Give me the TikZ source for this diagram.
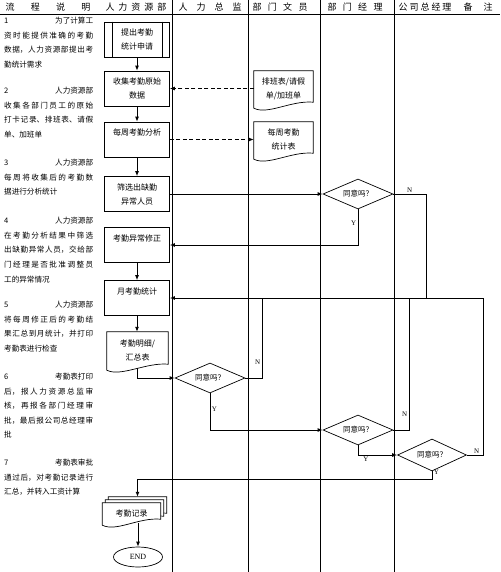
\documentclass[tikz,border=0pt]{standalone}
\usepackage{fontspec}
\setmainfont{Noto Sans CJK SC}
\newfontfamily\latinfont{Liberation Serif}
\usepackage{tikz}
\usetikzlibrary{positioning,arrows.meta,calc,shapes.geometric,backgrounds}
\XeTeXlinebreaklocale "zh"
\XeTeXlinebreakskip=0pt plus 2pt

\newcommand{\docshape}[1]{%
  \begin{scope}[on background layer]
    \draw[line width=0.7pt, fill=white] (#1.north west) -- ([yshift=-2pt]#1.south west)
      .. controls ([xshift=14pt,yshift=-9pt]#1.south west) and ([xshift=-22pt,yshift=6pt]#1.south east) .. ([yshift=4pt]#1.south east)
      -- (#1.north east) -- cycle;
  \end{scope}}

\begin{document}
\begin{tikzpicture}[x=1pt, y=-1pt, font=\fontsize{8}{14}\selectfont,
  lane/.style={line width=0.6pt},
  hdr/.style={font=\fontsize{9}{10}\selectfont, inner sep=0pt},
  note/.style={anchor=north west, inner sep=0pt, text width=89pt, align=justify, font=\fontsize{7.6}{14.6}\selectfont},
  proc/.style={draw, line width=0.7pt, minimum width=65pt, minimum height=35pt, inner sep=1pt, align=center},
  docbox/.style={minimum width=59pt, minimum height=35pt, inner sep=1pt, align=center},
  ask/.style={draw, diamond, line width=0.7pt, minimum width=70pt, minimum height=30pt, inner sep=0pt, aspect=2.3, fill=white, font=\fontsize{7.5}{9}\selectfont},
  yn/.style={font=\fontsize{7}{8}\selectfont\latinfont, inner sep=1.5pt},
  arr/.style={-{Latex[length=5pt,width=4pt]}, line width=0.9pt},
  dsh/.style={arr, dash pattern=on 4pt off 2.5pt},
  ret/.style={line width=0.7pt}]
\useasboundingbox (0,0) rectangle (500,572);

\draw[lane] (0,14) -- (500,14);
\foreach \lx in {172,248,320,394}
  \draw[lane] (\lx,0) -- (\lx,572);

\node[hdr] (hd1) at (48,7)  {\makebox[85pt]{流\hfill 程\hfill 说\hfill 明}};
\node[hdr] (hd2) at (136,7) {\makebox[61pt]{人\hfill 力\hfill 资\hfill 源\hfill 部}};
\node[hdr] (hd3) at (210,7) {\makebox[63pt]{人\hfill 力\hfill 总\hfill 监}};
\node[hdr] (hd4) at (280,7) {\makebox[55pt]{部\hfill 门\hfill 文\hfill 员}};
\node[hdr] (hd5) at (355,7) {\makebox[55pt]{部\hfill 门\hfill 经\hfill 理}};
\node[hdr] (hd6) at (425,7) {\makebox[53pt]{公\hfill 司\hfill 总\hfill 经\hfill 理}};
\node[hdr] (hd7) at (478,7) {\makebox[29pt]{备\hfill 注}};

\node[note] (t1) at (4,17)  {1\hfill 为了计算工\linebreak 资时能提供准确的考勤\linebreak 数据，人力资源部提出考\linebreak 勤统计需求};
\node[note] (t2) at (4,87)  {2\hfill 人力资源部\linebreak 收集各部门员工的原始\linebreak 打卡记录、排班表、请假\linebreak 单、加班单};
\node[note] (t3) at (4,159) {3\hfill 人力资源部\linebreak 每周将收集后的考勤数\linebreak 据进行分析统计};
\node[note] (t4) at (4,217) {4\hfill 人力资源部\linebreak 在考勤分析结果中筛选\linebreak 出缺勤异常人员，交给部\linebreak 门经理是否批准调整员\linebreak 工的异常情况};
\node[note] (t5) at (4,301) {5\hfill 人力资源部\linebreak 将每周修正后的考勤结\linebreak 果汇总到月统计，并打印\linebreak 考勤表进行检查};
\node[note] (t6) at (4,373) {6\hfill 考勤表打印\linebreak 后，报人力资源总监审\linebreak 核，再报各部门经理审\linebreak 批，最后报公司总经理审\linebreak 批};
\node[note] (t7) at (4,459) {7\hfill 考勤表审批\linebreak 通过后，对考勤记录进行\linebreak 汇总，并转入工资计算};

\node[proc] (p1) at (137,39.5) {提出考勤\\统计申请};
\draw[line width=0.7pt] ([xshift=8pt]p1.north west) -- ([xshift=8pt]p1.south west);
\draw[line width=0.7pt] ([xshift=-8pt]p1.north east) -- ([xshift=-8pt]p1.south east);
\node[proc] (p2) at (137,88.5)  {收集考勤原始\\数据};
\node[proc] (p3) at (137,139.5) {每周考勤分析\\~};
\node[proc] (p4) at (137,194)   {筛选出缺勤\\异常人员};
\node[proc] (p5) at (137,245)   {考勤异常修正\\~};
\node[proc] (p6) at (137,298)   {月考勤统计\\~};
\node[docbox, minimum width=61pt, minimum height=36pt] (mx) at (137.5,350) {考勤明细/\\汇总表};
\docshape{mx}

\node[docbox] (doc1) at (283.5,88.5)  {排班表/请假\\单/加班单};
\docshape{doc1}
\node[docbox] (doc2) at (283.5,139.5) {每周考勤\\统计表};
\docshape{doc2}

\node[ask] (d1) at (358,194) {同意吗？};
\node[ask] (d2) at (210,378) {同意吗？};
\node[ask] (d3) at (358,430) {同意吗？};
\node[ask, minimum width=69pt, minimum height=32pt] (d4) at (432,455) {同意吗？};

\node[docbox, minimum width=58pt, minimum height=20pt] (rec3) at (137.5,507) {};
\node[docbox, minimum width=58pt, minimum height=20pt] (rec2) at (134.5,510) {};
\node[docbox, minimum width=58pt, minimum height=20pt] (rec) at (131.5,513) {考勤记录};
\docshape{rec3}
\docshape{rec2}
\docshape{rec}
\node[ellipse, draw, line width=0.7pt, minimum width=49pt, minimum height=20pt, inner sep=0pt, font=\fontsize{8}{9}\selectfont\latinfont] (fin) at (138,557) {END};

\coordinate (j1) at (426,298);
\coordinate (j2) at (262,298);
\coordinate (j3) at (409,298);
\coordinate (j4) at (483,298);

\draw[arr] (p1) -- (p2);
\draw[arr] (p2) -- (p3);
\draw[arr] (p3) -- (p4);
\draw[arr] (p5) -- (p6);
\draw[arr] (p6.south) -- (p6.south |- mx.north);
\draw[dsh] (doc1.west |- p2.east) -- (p2.east);
\draw[dsh] (p3.east) -- (p3.east -| doc2.west);
\draw[arr] (p4) -- (d1);
\draw[arr] (d1.south) |- node[yn, pos=0.2, left] (y1) {Y} (p5.east);
\draw[ret] (d1.east) -| node[yn, pos=0.25, above] (n1) {N} (j1);
\draw[arr] (j4) -- (p6.east);
\draw[arr] (mx.south) |- (d2.west);
\draw[ret] (d2.east) -| node[yn, pos=0.6, left] (n2) {N} (j2);
\draw[arr] (d2.south) |- node[yn, pos=0.22, right] (y2) {Y} (d3.west);
\draw[ret] (d3.east) -| node[yn, pos=0.56, left] (n3) {N} (j3);
\draw[arr] (d3.south) |- node[yn, pos=0.6, below] (y3) {Y} (d4.west);
\draw[ret] (d4.east) -| node[yn, pos=0.3, above] (n4) {N} (j4);
\draw[arr] (d4.south) -- node[yn, pos=0.1, right] (y4) {Y} ++(0,8) -| (rec3.north);
\draw[arr] (rec.south -| fin.north) -- (fin.north);
\end{tikzpicture}
\end{document}
